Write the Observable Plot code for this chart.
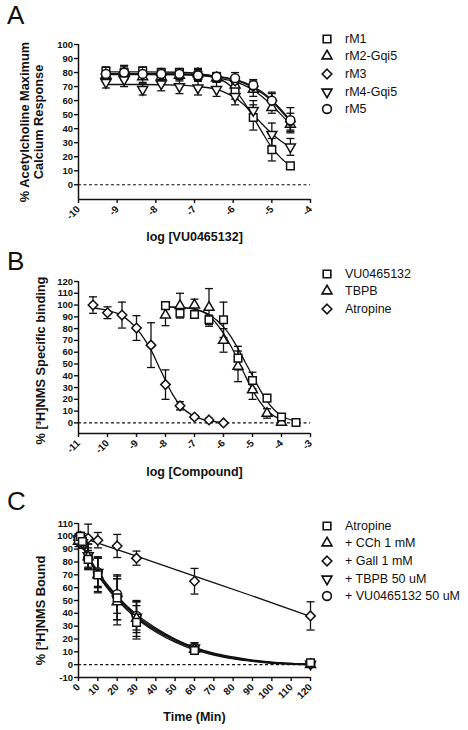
<!DOCTYPE html>
<html>
<head>
<meta charset="utf-8">
<script src="https://cdn.jsdelivr.net/npm/d3@7"></script>
<script src="https://cdn.jsdelivr.net/npm/@observablehq/plot@0.6"></script>
<style>
  html, body { margin: 0; padding: 0; background: #fff; }
  #root { position: relative; width: 468px; height: 730px; overflow: hidden; font-family: 'Liberation Sans', Arial, Helvetica, sans-serif; }
  .panel { position: absolute; left: 0; }
  .letter { position: absolute; font-size: 26px; line-height: 1; color: #111; }
  .legend { position: absolute; left: 318px; }
  .legend .row { display: flex; align-items: center; height: 17.6px; font-size: 12.5px; color: #111; }
  .legend svg { width: 18px; height: 16px; margin-right: 9px; }
</style>
</head>
<body>
<div id="root"></div>
<script>
// ---------------- Panel A data ----------------
const xA = [-9.29, -8.82, -8.34, -7.86, -7.39, -6.91, -6.43, -5.95, -5.48, -5.0, -4.52];
const namesA = ["rM1", "rM2-Gqi5", "rM3", "rM4-Gqi5", "rM5"];
const rM1 = [81, 80, 81, 80, 80, 78, 77, 67, 48, 25, 13.5];
const rM1err = [3, 5, 3, 3, 3, 4, 3, 6, 9, 8, 1.5];
const rM2 = [78, 80, 77, 77, 78, 79, 76, 71, 68, 55, 43];
const rM2err = [4, 5, 4, 3, 4, 4, 3, 4, 5, 4, 5];
const rM3 = [79, 80, 79, 78, 79, 78, 77, 74, 70, 60, 45];
const rM3err = [3, 4, 3, 3, 3, 4, 2, 3, 4, 5, 6];
const rM4 = [73, 75, 68, 72, 70, 69, 68, 63, 53, 36, 27];
const rM4err = [4, 5, 4, 5, 5, 5, 5, 6, 7, 8, 6];
const rM5 = [79, 80, 79, 79, 79, 78, 77, 76, 71, 60, 46];
const rM5err = [3, 5, 3, 3, 3, 4, 3, 4, 4, 6, 9];
// fitted curves
const fitXA = [-9.29, -8.34, -7.39, -6.91, -6.43, -6.19, -5.95, -5.72, -5.48, -5.24, -5.0, -4.76, -4.52];
const rM1fit = [80.5, 80.5, 80.2, 79.3, 76.5, 73, 67.5, 59, 48, 37, 26.5, 19, 13.5];
const rM2fit = [78.5, 78.5, 78.3, 77.8, 76.5, 75, 73.5, 71, 67.5, 62.5, 56.5, 50, 43];
const rM3fit = [79, 79, 78.8, 78.3, 77, 76, 74.5, 72.5, 69, 65, 59.5, 52.5, 45];
const rM4fit = [71.5, 71.5, 71, 70, 68, 65.5, 62, 57, 50, 43, 36.5, 31, 27];
const rM5fit = [79.3, 79.3, 79.1, 78.6, 77.4, 76.4, 75, 73, 69.8, 66, 60.5, 53.5, 46];
const ticksXA = [-10, -9, -8, -7, -6, -5, -4];
const ticksYA = [0, 10, 20, 30, 40, 50, 60, 70, 80, 90, 100];

// ---------------- Panel B data ----------------
const namesB = ["VU0465132", "TBPB", "Atropine"];
const xVU = [-8, -7.5, -7, -6.5, -6, -5.5, -5, -4.5, -4, -3.5];
const yVU = [99.5, 93, 92, 87.5, 87.5, 55, 36, 21, 5, 0.3];
const eVU = [1.5, 3, 2, 4, 15, 10, 7, 2, 1.5, 0.5];
const xTBPB = [-8, -7.5, -7, -6.5, -6, -5.5, -5, -4.5, -4];
const yTBPB = [91.5, 99.5, 100, 98, 70, 48, 28, 8, 0.5];
const eTBPB = [9, 10.5, 5, 16, 10, 13, 8, 4, 1];
const xAtr = [-10.5, -10, -9.5, -9, -8.5, -8, -7.5, -7, -6.5, -6];
const yAtr = [100, 93.5, 91.5, 80.5, 66, 32.5, 14.5, 5, 2.5, 0];
const eAtr = [7, 5, 11, 10.5, 19, 12.5, 3.5, 1.5, 1.5, 0.5];
const fitXVU = [-8, -7.5, -7, -6.5, -6, -5.75, -5.5, -5.25, -5, -4.75, -4.5, -4, -3.5];
const fitYVU = [98.5, 98, 96.5, 92, 81.5, 73.5, 63, 51.5, 40, 28.5, 18.5, 6, 1.5];
const fitXTBPB = [-8, -7.5, -7, -6.5, -6, -5.75, -5.5, -5.25, -5, -4.75, -4.5, -4];
const fitYTBPB = [98.5, 98, 96.5, 91, 76, 65.5, 53, 40, 28, 18, 10.5, 2.5];
const fitXAtr = [-10.5, -10, -9.5, -9, -8.75, -8.5, -8.25, -8, -7.75, -7.5, -7, -6.5, -6];
const fitYAtr = [97.5, 95.5, 91, 80, 72, 62, 49, 36, 24, 15, 5.5, 1.8, 0.6];
const ticksXB = [-11, -10, -9, -8, -7, -6, -5, -4, -3];
const ticksYB = [0, 10, 20, 30, 40, 50, 60, 70, 80, 90, 100, 110, 120];

// ---------------- Panel C data ----------------
const namesC = ["Atropine", "+ CCh 1 mM", "+ Gall 1 mM", "+ TBPB 50 uM", "+ VU0465132 50 uM"];
const timeC = [0, 1, 2, 5, 10, 20, 30, 60, 120];
const cAtr = [97, 100, 96, 82, 70, 52, 33, 11, 1.5];
const cAtrErr = [3, 3, 3, 7, 14, 17, 13, 3, 0.8];
const cCCh = [96, 98, 95, 84, 70, 49, 36, 12, 0];
const cCChErr = [4, 3, 4, 10, 13, 18, 14, 3, 0.5];
const cGall = [97, 100, 99, 98.5, 97, 92.5, 83, 65, 38];
const cGallErr = [3, 3, 3, 11, 6, 9, 5.5, 10, 11];
const cTBPB = [98, 97, 95, 85, 72, 51, 37, 13, 0.5];
const cTBPBErr = [3, 3, 4, 9, 12, 16, 12, 4, 0.5];
const cVU = [99, 96, 94, 83, 72, 55, 38, 13, 1];
const cVUErr = [3, 3, 3, 8, 11, 15, 11, 4, 0.8];
const fitTimeC = [0, 5, 10, 20, 30, 40, 50, 60, 70, 80, 90, 100, 110, 120];
const fitAtrC = [99, 83, 70, 50.5, 36, 25.5, 17.5, 11.5, 7.5, 4.5, 2.5, 1, 0.3, -0.2];
const fitCChC = [99, 83.5, 70.5, 51.5, 37, 26.5, 18.5, 12.5, 8, 5, 3, 1.5, 0.6, 0];
const fitTBPBC = [99, 84, 71.5, 52.5, 38, 27.5, 19.5, 13, 8.5, 5.5, 3.3, 1.8, 0.9, 0.4];
const fitVUC = [99.5, 85, 72.5, 53.5, 39, 28.5, 20, 13.5, 9, 6, 3.6, 2, 1, 0.6];
const fitTimeGall = [0, 30, 60, 90, 120];
const fitGallC = [100, 84.5, 69, 53.5, 37.5];
const ticksXC = [0, 10, 20, 30, 40, 50, 60, 70, 80, 90, 100, 110, 120];
const ticksYC = [-10, 0, 10, 20, 30, 40, 50, 60, 70, 80, 90, 100, 110];

// ---------------- symbols ----------------
const sqrt3 = Math.sqrt(3);
const triangleDown = {
  draw(ctx, size) {
    const y = -Math.sqrt(size / (sqrt3 * 3));
    ctx.moveTo(0, -y * 2);
    ctx.lineTo(-sqrt3 * y, y);
    ctx.lineTo(sqrt3 * y, y);
    ctx.closePath();
  }
};
const capSym = { draw(ctx) { ctx.moveTo(-4, 0); ctx.lineTo(4, 0); } };
const SYM = { square: d3.symbolSquare, triangle: d3.symbolTriangle, diamond: d3.symbolDiamond2, down: triangleDown, circle: d3.symbolCircle };
const RAD = { square: 4.3, triangle: 3.7, diamond: 4.3, down: 3.7, circle: 4.4 };

const FONT = "'Liberation Sans', Arial, Helvetica, sans-serif";

function zipPts(xs, ys, es) { return xs.map((x, i) => ({ x, y: ys[i], e: es ? es[i] : 0 })); }

function panel(cfg) {
  const [x0, x1] = cfg.xDomain, [y0, y1] = cfg.yDomain;
  const marks = [
    Plot.ruleY([0], { x1: x0, x2: x1, strokeDasharray: "3,2.5", strokeWidth: 1.2 }),
    Plot.ruleX([x0], { y1: y0, y2: y1, strokeWidth: 1.5 }),
    Plot.ruleY([y0], { x1: x0, x2: x1, strokeWidth: 1.5 }),
    Plot.axisY({ ticks: cfg.yTicks, tickSize: 4, tickPadding: 1.5, strokeWidth: 1.4, fontWeight: "bold", fontSize: 9.5, label: null, tickFormat: d => String(d) }),
    Plot.axisX({ ticks: cfg.xTicks, tickSize: 4, tickPadding: 4, tickRotate: -45, strokeWidth: 1.4, fontWeight: "bold", fontSize: 10, label: null, tickFormat: d => String(d) }),
  ];
  for (const s of cfg.series) {
    marks.push(Plot.line(zipPts(s.fx, s.fy), { x: "x", y: "y", curve: "monotone-x", strokeWidth: 1.3, stroke: "#111" }));
  }
  for (const s of cfg.series) {
    const pts = zipPts(s.x, s.y, s.e);
    marks.push(Plot.ruleX(pts, { x: "x", y1: d => d.y - d.e, y2: d => d.y + d.e, strokeWidth: 1.3, stroke: "#111" }));
    marks.push(Plot.dot(pts, { x: "x", y: d => d.y + d.e, symbol: capSym, fill: "none", stroke: "#111", strokeWidth: 1.3 }));
    marks.push(Plot.dot(pts, { x: "x", y: d => d.y - d.e, symbol: capSym, fill: "none", stroke: "#111", strokeWidth: 1.3 }));
  }
  for (const s of cfg.series) {
    const pts = zipPts(s.x, s.y, s.e);
    marks.push(Plot.dot(pts, { x: "x", y: "y", symbol: SYM[s.sym], r: RAD[s.sym], fill: "white", stroke: "#111", strokeWidth: 1.5 }));
  }
  marks.push(Plot.text([cfg.xTitle], { frameAnchor: "bottom", dy: cfg.xTitleDy, fontSize: 12.5, fontWeight: "bold", lineAnchor: "middle", textAnchor: "middle", fill: "#111" }));
  marks.push(Plot.text([cfg.yTitle], { frameAnchor: "left", dx: cfg.yTitleDx, dy: cfg.yTitleShift || 0, rotate: -90, fontSize: 12.8, fontWeight: "bold", textAnchor: "middle", lineAnchor: "middle", lineHeight: 1.05, fill: "#111" }));
  return Plot.plot({
    width: 468, height: cfg.height,
    marginLeft: 78, marginRight: 158, marginTop: cfg.marginTop, marginBottom: cfg.marginBottom,
    x: { domain: cfg.xDomain }, y: { domain: cfg.yDomain },
    style: { fontFamily: FONT, fontSize: "9.5px", color: "#111", background: "transparent", overflow: "visible" },
    marks
  });
}

const root = document.getElementById("root");

function addPanel(letter, top, letterTop, plot, legendTop, legendItems) {
  const d = document.createElement("div");
  d.className = "panel"; d.style.top = top + "px";
  d.appendChild(plot);
  root.appendChild(d);
  const L = document.createElement("div");
  L.className = "letter"; L.style.left = "7px"; L.style.top = letterTop + "px"; L.textContent = letter;
  root.appendChild(L);
  const lg = document.createElement("div");
  lg.className = "legend"; lg.style.top = legendTop + "px";
  for (const it of legendItems) {
    const row = document.createElement("div"); row.className = "row";
    const svg = d3.create("svg").attr("viewBox", "-9 -8 18 16");
    const r = RAD[it.sym];
    svg.append("path").attr("d", d3.symbol(SYM[it.sym], Math.PI * r * r)()).attr("fill", "white").attr("stroke", "#111").attr("stroke-width", 1.6);
    row.appendChild(svg.node());
    const t = document.createElement("span"); t.textContent = it.name;
    row.appendChild(t);
    lg.appendChild(row);
  }
  root.appendChild(lg);
}

// Panel A
const symA = ["square", "triangle", "diamond", "down", "circle"];
const plotA = panel({
  xDomain: [-10, -4], yDomain: [-10.5, 100], xTicks: ticksXA, yTicks: ticksYA,
  height: 245, marginTop: 44, marginBottom: 46,
  xTitle: "log [VU0465132]", xTitleDy: 37,
  yTitle: "% Acetylcholine Maximum\nCalcium Response", yTitleDx: -47,
  series: [
    { sym: "square", x: xA, y: rM1, e: rM1err, fx: fitXA, fy: rM1fit },
    { sym: "triangle", x: xA, y: rM2, e: rM2err, fx: fitXA, fy: rM2fit },
    { sym: "diamond", x: xA, y: rM3, e: rM3err, fx: fitXA, fy: rM3fit },
    { sym: "down", x: xA, y: rM4, e: rM4err, fx: fitXA, fy: rM4fit },
    { sym: "circle", x: xA, y: rM5, e: rM5err, fx: fitXA, fy: rM5fit },
  ]
});
addPanel("A", 0, 2, plotA, 30, namesA.map((n, i) => ({ name: n, sym: symA[i] })));

// Panel B
const symB = ["square", "triangle", "diamond"];
const plotB = panel({
  xDomain: [-11, -3], yDomain: [-9, 120], xTicks: ticksXB, yTicks: ticksYB,
  height: 245, marginTop: 36, marginBottom: 57,
  xTitle: "log [Compound]", xTitleDy: 38,
  yTitle: "% [³H]NMS Specific binding", yTitleDx: -38, yTitleShift: 3,
  series: [
    { sym: "diamond", x: xAtr, y: yAtr, e: eAtr, fx: fitXAtr, fy: fitYAtr },
    { sym: "triangle", x: xTBPB, y: yTBPB, e: eTBPB, fx: fitXTBPB, fy: fitYTBPB },
    { sym: "square", x: xVU, y: yVU, e: eVU, fx: fitXVU, fy: fitYVU },
  ]
});
addPanel("B", 245, 248, plotB, 265, namesB.map((n, i) => ({ name: n, sym: symB[i] })));

// Panel C
const symC = ["square", "triangle", "diamond", "down", "circle"];
const plotC = panel({
  xDomain: [0, 120], yDomain: [-10, 110], xTicks: ticksXC, yTicks: ticksYC,
  height: 240, marginTop: 33, marginBottom: 53,
  xTitle: "Time (Min)", xTitleDy: 39,
  yTitle: "% [³H]NMS Bound", yTitleDx: -38, yTitleShift: 10,
  series: [
    { sym: "diamond", x: timeC, y: cGall, e: cGallErr, fx: fitTimeGall, fy: fitGallC },
    { sym: "circle", x: timeC, y: cVU, e: cVUErr, fx: fitTimeC, fy: fitVUC },
    { sym: "down", x: timeC, y: cTBPB, e: cTBPBErr, fx: fitTimeC, fy: fitTBPBC },
    { sym: "triangle", x: timeC, y: cCCh, e: cCChErr, fx: fitTimeC, fy: fitCChC },
    { sym: "square", x: timeC, y: cAtr, e: cAtrErr, fx: fitTimeC, fy: fitAtrC },
  ]
});
addPanel("C", 490, 488, plotC, 517, namesC.map((n, i) => ({ name: n, sym: symC[i] })));
</script>
</body>
</html>
